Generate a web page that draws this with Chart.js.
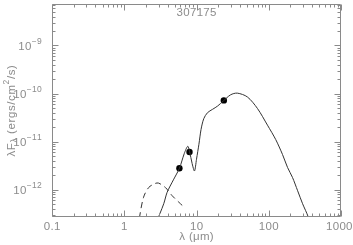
<!DOCTYPE html>
<html>
<head>
<meta charset="utf-8">
<script src="https://cdn.jsdelivr.net/npm/chart.js@4/dist/chart.umd.min.js"></script>
<style>
html,body{margin:0;padding:0;background:#fff;}
#wrap{width:353px;height:245px;}
</style>
</head>
<body>
<div id="wrap"><canvas id="c" width="353" height="245"></canvas></div>
<script>
// ---- data (wavelength in micron, lambda*F_lambda in ergs/cm^2/s) ----
const modelLam  = [2.75, 3.52, 3.92, 4.79, 5.81, 6.76, 7.57, 8.0, 8.7, 9.38, 10.0, 10.8, 11.55, 12.6, 14.2, 16.7, 19.6, 23.5, 29.6, 36.7, 50.6, 69.7, 96, 125, 155, 182, 213, 251, 294, 352, 363];
const modelFlux = [2.0e-13, 5.1e-13, 8.8e-13, 1.6e-12, 2.8e-12, 5.6e-12, 8.0e-12, 6.3e-12, 3.5e-12, 2.45e-12, 4.3e-12, 8.8e-12, 1.78e-11, 3.0e-11, 4.0e-11, 4.7e-11, 5.5e-11, 7.0e-11, 9.4e-11, 1.02e-10, 8.5e-11, 4.9e-11, 2.2e-11, 1.1e-11, 5.4e-12, 2.9e-12, 1.8e-12, 9.5e-13, 5.1e-13, 2.7e-13, 2.0e-13];
const starLam   = [1.58, 1.63, 1.85, 2.18, 2.69, 2.99, 3.71, 4.6, 5.68, 6.88];
const starFlux  = [1.6e-13, 2.7e-13, 6.95e-13, 1.11e-12, 1.35e-12, 1.37e-12, 1.11e-12, 7.5e-13, 5.5e-13, 4.2e-13];
const obsLam    = [5.8, 8.0, 23.9];
const obsFlux   = [2.8e-12, 6.1e-12, 7.2e-11];
const xTickValues = [0.1, 1, 10, 100, 1000];
const xTickLabels = ['0.1', '1', '10', '100', '1000'];
const yTickExps   = [-12, -11, -10, -9];
const titleText = '307175';
const xTitle = 'λ (μm)';

const AXIS = '#8a8a8a';
const TEXT = '#8c8c8c';
const FONT = '"Liberation Sans", Arial, sans-serif';
const FS = 11.5, FSS = 8.5;

function pts(xs, ys){ return xs.map((v,i)=>({x:v, y:ys[i]})); }

function spaced(ctx, text, x0, y0, sp){
  let ox = x0;
  for (const ch of text){ ctx.fillText(ch, ox, y0); ox += ctx.measureText(ch).width + sp; }
  return ox - x0;
}
function spacedWidth(ctx, text, sp){
  let w = 0;
  for (const ch of text){ w += ctx.measureText(ch).width + sp; }
  return w;
}

const framePlugin = {
  id: 'frame',
  afterDraw(chart){
    const {ctx, chartArea:a, scales:{x, y}} = chart;
    ctx.save();
    ctx.strokeStyle = AXIS;
    ctx.lineWidth = 1;
    const L = Math.round(a.left)+0.5, R = Math.round(a.right)-0.5, T = Math.round(a.top)+0.5, B = Math.round(a.bottom)-0.5;
    ctx.beginPath();
    ctx.moveTo(L,T); ctx.lineTo(R,T); ctx.lineTo(R,B); ctx.lineTo(L,B); ctx.closePath();
    ctx.stroke();
    // x ticks
    ctx.beginPath();
    for (let e=-1; e<=3; e++){
      for (let m=1; m<=9; m++){
        const v = m*Math.pow(10,e);
        if (v < x.min*0.999 || v > x.max*1.001) continue;
        const px = Math.round(x.getPixelForValue(v))+0.5;
        const len = m===1 ? 6 : 3;
        ctx.moveTo(px,B); ctx.lineTo(px,B-len);
        ctx.moveTo(px,T); ctx.lineTo(px,T+len);
      }
    }
    // y ticks
    for (let e=-13; e<=-8; e++){
      for (let m=1; m<=9; m++){
        const v = m*Math.pow(10,e);
        if (v < y.min || v > y.max) continue;
        const py = Math.round(y.getPixelForValue(v))+0.5;
        const len = m===1 ? 6 : 3;
        ctx.moveTo(L,py); ctx.lineTo(L+len,py);
        ctx.moveTo(R,py); ctx.lineTo(R-len,py);
      }
    }
    ctx.stroke();
    ctx.fillStyle = TEXT;
    ctx.textBaseline = 'middle';
    ctx.textAlign = 'left';
    const SP = 0.3;
    // x labels
    ctx.font = FS + 'px ' + FONT;
    xTickValues.forEach((v,i)=>{
      const w = spacedWidth(ctx, xTickLabels[i], SP) - SP;
      let x0 = x.getPixelForValue(v) - w/2;
      if (x0 + w > 352.5) x0 = 352.5 - w;
      spaced(ctx, xTickLabels[i], x0, 227, SP);
    });
    // y labels: 10^exp
    yTickExps.forEach(ex=>{
      const py = y.getPixelForValue(Math.pow(10,ex));
      const base = '10', sup = '\u2212' + Math.abs(ex);
      ctx.font = FS + 'px ' + FONT;
      const wb = spacedWidth(ctx, base, SP);
      ctx.font = FSS + 'px ' + FONT;
      const ws = spacedWidth(ctx, sup, SP);
      const right = 42;
      ctx.font = FS + 'px ' + FONT;
      spaced(ctx, base, right - ws - wb, py + 1, SP);
      ctx.font = FSS + 'px ' + FONT;
      spaced(ctx, sup, right - ws, py - 4, SP);
    });
    // title
    ctx.font = FS + 'px ' + FONT;
    let w = spacedWidth(ctx, titleText, SP) - SP;
    spaced(ctx, titleText, (a.left+a.right)/2 - w/2, 13, SP);
    // x title
    w = spacedWidth(ctx, xTitle, SP) - SP;
    spaced(ctx, xTitle, (a.left+a.right)/2 - w/2, 237, SP);
    // y title (rotated) with sub/superscripts
    const segs = [
      {t:'λF', s:FS, dy:0},
      {t:'λ', s:FSS, dy:3},
      {t:' (ergs/cm', s:FS, dy:0},
      {t:'2', s:FSS, dy:-5},
      {t:'/s)', s:FS, dy:0}
    ];
    let total = 0;
    segs.forEach(sg=>{ ctx.font = sg.s+'px '+FONT; sg.w = spacedWidth(ctx, sg.t, 0.6); total += sg.w; });
    ctx.translate(12, (a.top+a.bottom)/2);
    ctx.rotate(-Math.PI/2);
    let cx = -total/2;
    segs.forEach(sg=>{
      ctx.font = sg.s+'px '+FONT;
      spaced(ctx, sg.t, cx, sg.dy, 0.6);
      cx += sg.w;
    });
    ctx.restore();
  }
};

new Chart(document.getElementById('c'), {
  type: 'scatter',
  data: {
    datasets: [
      {
        type: 'line',
        data: pts(modelLam, modelFlux),
        borderColor: '#333',
        borderWidth: 1,
        pointRadius: 0,
        tension: 0.3,
        fill: false
      },
      {
        type: 'line',
        data: pts(starLam, starFlux),
        borderColor: '#333',
        borderWidth: 1,
        borderDash: [6, 4],
        pointRadius: 0,
        tension: 0.3,
        fill: false
      },
      {
        type: 'scatter',
        data: pts(obsLam, obsFlux),
        backgroundColor: '#000',
        borderColor: '#000',
        pointRadius: 3.2,
        pointBorderWidth: 0
      }
    ]
  },
  options: {
    responsive: false,
    animation: false,
    devicePixelRatio: 1,
    layout: { padding: { left: 52, right: 12, top: 0, bottom: 28 } },
    plugins: { legend: { display: false }, tooltip: { enabled: false }, title: { display: false } },
    scales: {
      x: { type: 'logarithmic', min: 0.1, max: 1000, display: false },
      y: { type: 'logarithmic', min: 2.7e-13, max: 7.3e-9, display: false }
    }
  },
  plugins: [framePlugin]
});
</script>
</body>
</html>
